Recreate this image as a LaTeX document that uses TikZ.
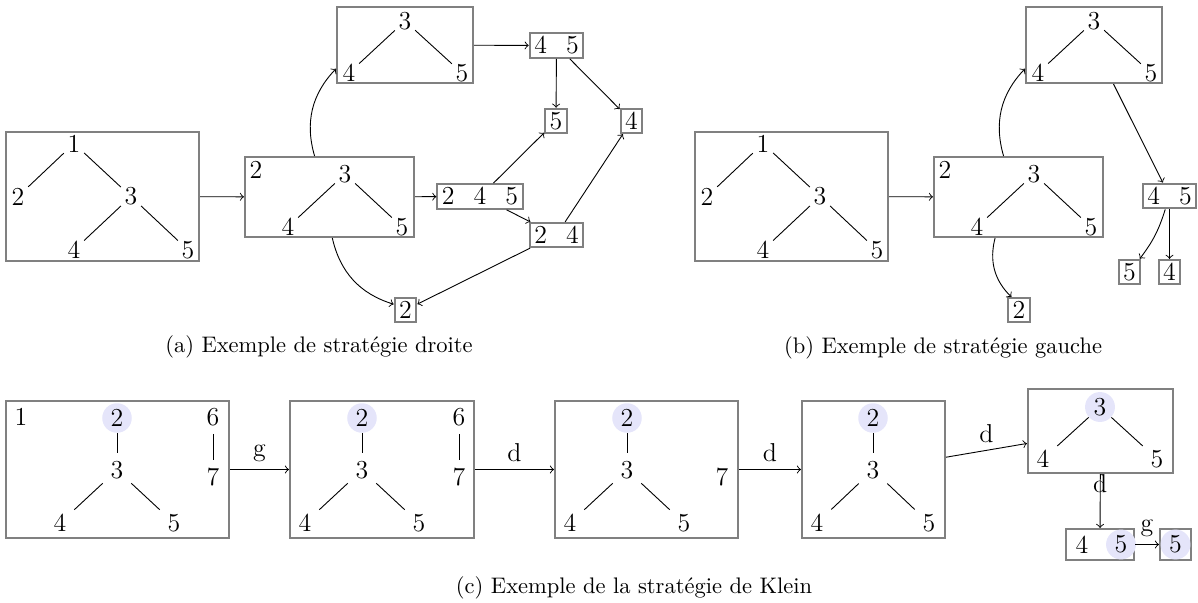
\documentclass[tikz,border=0pt]{standalone}
\usepackage{tikz}
\usetikzlibrary{fit,positioning}
\definecolor{hlblue}{RGB}{229,229,250}
\newcommand{\digfont}{\fontsize{11.5}{13}\selectfont}

\begin{document}
\begin{tikzpicture}[x=0.4444pt, y=-0.4444pt,
	box/.style={draw=gray, line width=0.9pt, inner sep=0pt},
	sbox/.style={draw=gray, line width=0.9pt, inner xsep=2pt, inner ysep=1.5pt, font=\digfont},
	dig/.style={inner sep=1.5pt, font=\digfont},
	kdig/.style={font=\digfont},
	hl/.style={circle, fill=hlblue, inner sep=1.3pt},
	lbl/.style={font=\digfont}]
			\useasboundingbox (0,0) rectangle (1198,602);
			% (a) right strategy
			\node[box, fit={(6,132) (199,261)}] (A1) {};
			\node[dig] (a1) at (74,143.5) {1};
			\node[dig] (a2) at (18,196.5) {2};
			\node[dig] (a3) at (131,196.5) {3};
			\node[dig] (a4) at (74,250) {4};
			\node[dig] (a5) at (188,250) {5};
			\draw (a1) -- (a2);
			\draw (a1) -- (a3);
			\draw (a3) -- (a4);
			\draw (a3) -- (a5);
			\node[box, fit={(245,157) (414,237)}] (A2) {};
			\node[dig] (b2) at (256,170) {2};
			\node[dig] (b3) at (345,174) {3};
			\node[dig] (b4) at (288,227) {4};
			\node[dig] (b5) at (402,227) {5};
			\draw (b3) -- (b4);
			\draw (b3) -- (b5);
			\node[box, fit={(337,7) (473,83)}] (A3) {};
			\node[dig] (c3) at (405,21) {3};
			\node[dig] (c4) at (349,73) {4};
			\node[dig] (c5) at (462,73) {5};
			\draw (c3) -- (c4);
			\draw (c3) -- (c5);
			\node[sbox] (S45a) at (556.5,45.5) {4\hspace{8.5pt}5};
			\node[sbox] (S5a) at (556,121) {5};
			\node[sbox] (S4a) at (631.5,121) {4};
			\node[sbox] (S245) at (480,196.5) {2\hspace{8.5pt}4\hspace{8.5pt}5};
			\node[sbox] (S24) at (556.5,235) {2\hspace{8.5pt}4};
			\node[sbox] (S2a) at (405.5,310) {2};
			\draw[->] (A1) -- (A2);
			\draw[->] (A2) -- (S245);
			\draw[->] (A2.110) to[bend left] (A3.199);
			\draw[->] (A2) to[bend right] (S2a);
			\draw[->] (A3) -- (S45a);
			\draw[->] (S45a) -- (S5a);
			\draw[->] (S45a) -- (S4a);
			\draw[->] (S245) -- (S5a);
			\draw[->] (S245) -- (S24);
			\draw[->] (S24) -- (S4a);
			\draw[->] (S24) -- (S2a);
			\node (capA) at (319,347) {(a)~Exemple de stratégie droite};
			% (b) left strategy
			\node[box, fit={(695,132) (888,261)}] (B1) {};
			\node[dig] (d1) at (763,143.5) {1};
			\node[dig] (d2) at (707,196.5) {2};
			\node[dig] (d3) at (820,196.5) {3};
			\node[dig] (d4) at (763,250) {4};
			\node[dig] (d5) at (877,250) {5};
			\draw (d1) -- (d2);
			\draw (d1) -- (d3);
			\draw (d3) -- (d4);
			\draw (d3) -- (d5);
			\node[box, fit={(934,157) (1103,237)}] (B2) {};
			\node[dig] (e2) at (945,170) {2};
			\node[dig] (e3) at (1034,174) {3};
			\node[dig] (e4) at (977,227) {4};
			\node[dig] (e5) at (1091,227) {5};
			\draw (e3) -- (e4);
			\draw (e3) -- (e5);
			\node[box, fit={(1026,7) (1162,83)}] (B3) {};
			\node[dig] (f3) at (1094,21) {3};
			\node[dig] (f4) at (1038,73) {4};
			\node[dig] (f5) at (1151,73) {5};
			\draw (f3) -- (f4);
			\draw (f3) -- (f5);
			\node[sbox] (T45b) at (1169.5,196) {4\hspace{8.5pt}5};
			\node[sbox] (T5b) at (1129.5,272) {5};
			\node[sbox] (T4b) at (1169.5,272) {4};
			\node[sbox] (T2b) at (1019,310) {2};
			\draw[->] (B1) -- (B2);
			\draw[->] (B2.110) to[bend left] (B3.199);
			\draw[->] (B2) to[bend right] (T2b);
			\draw[->] (B3) -- (T45b);
			\draw[->] (T45b) to[bend left=10] (T5b);
			\draw[->] (T45b) -- (T4b);
			\node (capB) at (943,348) {(b)~Exemple de stratégie gauche};
			% (c) Klein strategy
			\node[box, fit={(6,401) (229,538)}] (C1) {};
			\node[kdig] (g1) at (21,417) {1};
			\node[kdig, hl] (g2) at (117,418) {2};
			\node[kdig] (g3) at (117,470) {3};
			\node[kdig] (g4) at (60,523) {4};
			\node[kdig] (g5) at (174,523) {5};
			\node[kdig] (g6) at (213,417) {6};
			\node[kdig] (g7) at (213,477) {7};
			\draw (g2) -- (g3);
			\draw (g3) -- (g4);
			\draw (g3) -- (g5);
			\draw (g6) -- (g7);
			\node[box, fit={(290,401) (474,538)}] (C2) {};
			\node[kdig, hl] (h2) at (362,418) {2};
			\node[kdig] (h3) at (362,470) {3};
			\node[kdig] (h4) at (305,523) {4};
			\node[kdig] (h5) at (419,523) {5};
			\node[kdig] (h6) at (459,417) {6};
			\node[kdig] (h7) at (459,477) {7};
			\draw (h2) -- (h3);
			\draw (h3) -- (h4);
			\draw (h3) -- (h5);
			\draw (h6) -- (h7);
			\node[box, fit={(555,401) (738,538)}] (C3) {};
			\node[kdig, hl] (i2) at (627,418) {2};
			\node[kdig] (i3) at (627,470) {3};
			\node[kdig] (i4) at (570,523) {4};
			\node[kdig] (i5) at (684,523) {5};
			\node[kdig] (i7) at (722,477) {7};
			\draw (i2) -- (i3);
			\draw (i3) -- (i4);
			\draw (i3) -- (i5);
			\node[box, fit={(802,401) (945,538)}] (C4) {};
			\node[kdig, hl] (j2) at (873,418) {2};
			\node[kdig] (j3) at (873,470) {3};
			\node[kdig] (j4) at (817,523) {4};
			\node[kdig] (j5) at (929,523) {5};
			\draw (j2) -- (j3);
			\draw (j3) -- (j4);
			\draw (j3) -- (j5);
			\node[box, fit={(1028,389) (1173,473)}] (C5) {};
			\node[kdig, hl] (k3) at (1100,407) {3};
			\node[kdig] (k4) at (1043,459) {4};
			\node[kdig] (k5) at (1157,459) {5};
			\draw (k3) -- (k4);
			\draw (k3) -- (k5);
			\node[box, fit={(1066,529) (1134,560)}] (K45) {};
			\node[kdig] (l4) at (1082,544.5) {4};
			\node[kdig, hl] (l5) at (1121,544.5) {5};
			\node[box, fit={(1160,529) (1191,560)}] (K5) {};
			\node[kdig, hl] (m5) at (1175.5,544.5) {5};
			\draw[->] (C1) -- node[lbl, above] (lab1) {g} (C2);
			\draw[->] (C2) -- node[lbl, above] (lab2) {d} (C3);
			\draw[->] (C3) -- node[lbl, above] (lab3) {d} (C4);
			\draw[->] (C4) -- node[lbl, above] (lab4) {d} (C5);
			\draw[->] (C5) -- node[lbl, above] (lab5) {d} (K45);
			\draw[->] (K45) -- node[lbl, above] (lab6) {g} (K5);
			\node (capC) at (634,588) {(c)~Exemple de la stratégie de Klein};
\end{tikzpicture}
\end{document}
